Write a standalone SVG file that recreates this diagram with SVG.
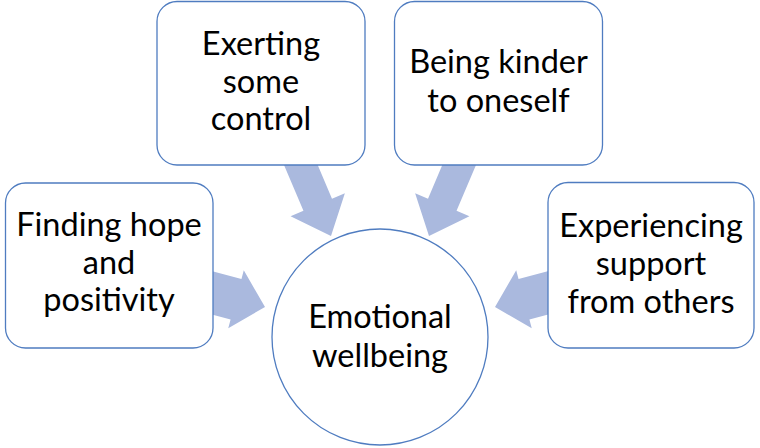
<svg xmlns="http://www.w3.org/2000/svg" width="760" height="448" viewBox="0 0 760 448">
<style>
.box{fill:#fff;stroke:#4f7cc0;stroke-width:1.3}
.arrow{fill:#aab9de;stroke:none}
text{font-family:Lato,"Open Sans","Liberation Sans",sans-serif;font-size:32.5px;fill:#000;text-anchor:middle}
</style>
<rect width="760" height="448" fill="#fff"/>
<g id="connectors">
<polygon class="arrow" transform="translate(331,236) rotate(67)" points="0,0 -34,-29.5 -34,-15.5 -90,-15.5 -90,15.5 -34,15.5 -34,29.5"/>
<polygon class="arrow" transform="translate(429,236) rotate(113)" points="0,0 -34,29.5 -34,15.5 -90,15.5 -90,-15.5 -34,-15.5 -34,-29.5"/>
<polygon class="arrow" transform="translate(265,307) rotate(15)" points="0,0 -30,-30 -30,-21 -65,-21 -65,21 -30,21 -30,30"/>
<polygon class="arrow" transform="translate(495,307) rotate(165)" points="0,0 -30,30 -30,21 -65,21 -65,-21 -30,-21 -30,-30"/>
</g>
<g id="node-control">
<rect class="box" x="157" y="1.5" width="208" height="163.5" rx="20"/>
<text x="261" y="55">Exerting</text>
<text x="261" y="93">some</text>
<text x="261" y="130">control</text>
</g>
<g id="node-kinder">
<rect class="box" x="394.5" y="1.5" width="208" height="163.5" rx="20"/>
<text x="498.5" y="73">Being kinder</text>
<text x="498.5" y="112">to oneself</text>
</g>
<g id="node-hope">
<rect class="box" x="5.5" y="183" width="207.5" height="165" rx="20"/>
<text x="109" y="236">Finding hope</text>
<text x="109" y="274">and</text>
<text x="109" y="311">positivity</text>
</g>
<g id="node-support">
<rect class="box" x="548" y="182.5" width="206" height="165.5" rx="20"/>
<text x="651" y="237">Experiencing</text>
<text x="651" y="275">support</text>
<text x="651" y="313">from others</text>
</g>
<g id="node-wellbeing">
<circle class="box" cx="380" cy="337" r="108"/>
<text x="380" y="328">Emotional</text>
<text x="380" y="367">wellbeing</text>
</g>
</svg>
